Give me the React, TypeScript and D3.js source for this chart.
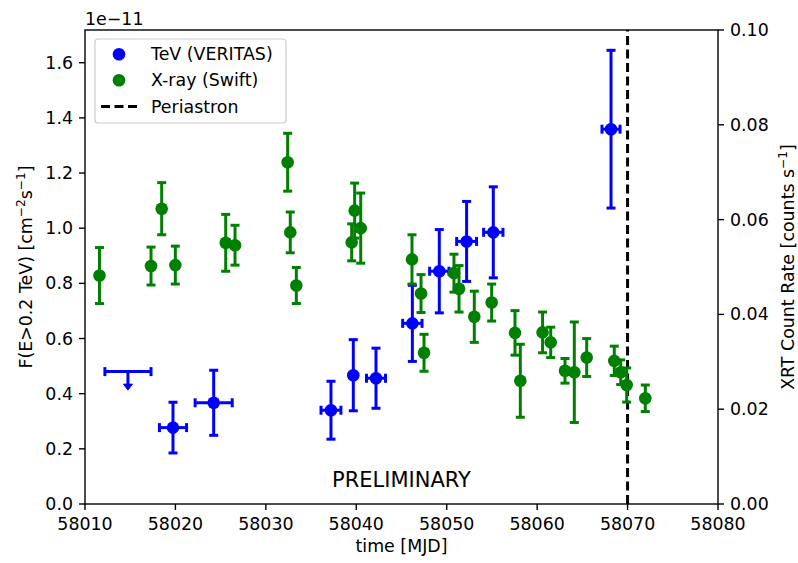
import React from "react";
import * as d3 from "d3";

// VERITAS TeV fluxes (units of 1e-11 cm^-2 s^-1)
const tevMjd = [58019.73, 58024.23, 58037.2, 58039.67, 58042.18, 58046.2, 58049.18, 58052.2, 58055.15, 58068.17];
const tevMjdErr = [1.5, 2.05, 1.1, 0.2, 1.05, 1.07, 1.07, 1.1, 1.07, 1.0];
const tevFlux = [0.277, 0.367, 0.34, 0.467, 0.456, 0.655, 0.844, 0.952, 0.985, 1.359];
const tevFluxErr = [0.092, 0.118, 0.105, 0.129, 0.109, 0.138, 0.151, 0.145, 0.165, 0.286];

// VERITAS upper limit
const ulMjd = [58014.75];
const ulMjdErr = [2.55];
const ulFlux = [0.48];

// Swift-XRT count rates (counts/s)
const xrtMjd = [
  58011.6, 58017.3, 58018.48, 58019.99, 58025.56, 58026.59, 58032.41, 58032.7, 58033.37,
  58039.49, 58039.82, 58040.49, 58046.16, 58047.16, 58047.49, 58050.8, 58051.36, 58053.05,
  58054.97, 58057.55, 58058.14, 58060.6, 58061.5, 58063.08, 58064.11, 58065.48, 58068.53,
  58069.24, 58069.9, 58071.96,
];
const xrtRate = [
  0.0482, 0.0502, 0.0623, 0.0504, 0.0551, 0.0546, 0.0721, 0.0573, 0.0461,
  0.0552, 0.0619, 0.0582, 0.0516, 0.0444, 0.0319, 0.0487, 0.0454, 0.0395,
  0.0425, 0.0361, 0.026, 0.0362, 0.0341, 0.0281, 0.0278, 0.0309, 0.0302,
  0.0278, 0.0251, 0.0223,
];
const xrtRateErr = [
  0.0059, 0.004, 0.0055, 0.004, 0.006, 0.0042, 0.0061, 0.0043, 0.0038,
  0.0039, 0.0058, 0.0074, 0.0052, 0.004, 0.0039, 0.004, 0.0049, 0.0054,
  0.0039, 0.0047, 0.0077, 0.0043, 0.0032, 0.0026, 0.0106, 0.004, 0.0031,
  0.0026, 0.0036, 0.0028,
];

const periastronMjd = 58070;

const xTicks = [58010, 58020, 58030, 58040, 58050, 58060, 58070, 58080];
const leftTicks = [0, 0.2, 0.4, 0.6, 0.8, 1.0, 1.2, 1.4, 1.6];
const rightTicks = [0, 0.02, 0.04, 0.06, 0.08, 0.1];

const legendLabels = ["TeV (VERITAS)", "X-ray (Swift)", "Periastron"];

const BLUE = "#0000ff";
const GREEN = "#008000";
const FONT = "DejaVu Sans, sans-serif";
const FS = 17.4;

const W = 798;
const H = 563;
const L = 85;
const R = 718;
const T = 30;
const B = 504;

const ELW = 3;
const CAP = 4.5;
const MR = 6.3;

export default function App() {
  const x = d3.scaleLinear().domain([58010, 58080]).range([L, R]);
  const yL = d3.scaleLinear().domain([0, 1.7186]).range([B, T]);
  const yR = d3.scaleLinear().domain([0, 0.1]).range([B, T]);

  const fmtL = d3.format(".1f");
  const fmtR = d3.format(".2f");

  const errorPoint = (
    key: string,
    cx: number,
    cy: number,
    x0: number | null,
    x1: number | null,
    y0: number,
    y1: number,
    color: string,
    marker: boolean
  ) => (
    <g key={key}>
      {x0 !== null && x1 !== null && (
        <g stroke={color} strokeWidth={ELW}>
          <line x1={x0} x2={x1} y1={cy} y2={cy} />
          <line x1={x0} x2={x0} y1={cy - CAP} y2={cy + CAP} />
          <line x1={x1} x2={x1} y1={cy - CAP} y2={cy + CAP} />
        </g>
      )}
      <g stroke={color} strokeWidth={ELW}>
        <line x1={cx} x2={cx} y1={y0} y2={y1} />
        <line x1={cx - CAP} x2={cx + CAP} y1={y0} y2={y0} />
        <line x1={cx - CAP} x2={cx + CAP} y1={y1} y2={y1} />
      </g>
      {marker && <circle cx={cx} cy={cy} r={MR} fill={color} />}
    </g>
  );

  return (
    <div style={{ position: "absolute", left: 0, top: 0 }}>
      <svg width={W} height={H} viewBox={`0 0 ${W} ${H}`} style={{ display: "block", background: "#fff" }}>
        <rect x={0} y={0} width={W} height={H} fill="#fff" />

        {/* periastron */}
        <line
          x1={x(periastronMjd)}
          x2={x(periastronMjd)}
          y1={B}
          y2={T}
          stroke="#000"
          strokeWidth={3}
          strokeDasharray="9,4.5"
        />

        {/* TeV upper limit */}
        {ulMjd.map((m, i) => {
          const cx = x(m);
          const cy = yL(ulFlux[i]);
          const x0 = x(m - ulMjdErr[i]);
          const x1 = x(m + ulMjdErr[i]);
          return (
            <g key={`ul${i}`} stroke={BLUE} strokeWidth={ELW}>
              <line x1={x0} x2={x1} y1={cy} y2={cy} />
              <line x1={x0} x2={x0} y1={cy - CAP} y2={cy + CAP} />
              <line x1={x1} x2={x1} y1={cy - CAP} y2={cy + CAP} />
              <line x1={cx} x2={cx} y1={cy} y2={cy + 14} />
              <path
                d={`M${cx - 4.5},${cy + 12.5} L${cx + 4.5},${cy + 12.5} L${cx},${cy + 18.5} Z`}
                fill={BLUE}
                strokeWidth={1}
              />
            </g>
          );
        })}

        {/* TeV fluxes */}
        {tevMjd.map((m, i) =>
          errorPoint(
            `t${i}`,
            x(m),
            yL(tevFlux[i]),
            x(m - tevMjdErr[i]),
            x(m + tevMjdErr[i]),
            yL(tevFlux[i] + tevFluxErr[i]),
            yL(tevFlux[i] - tevFluxErr[i]),
            BLUE,
            true
          )
        )}

        {/* X-ray count rates */}
        {xrtMjd.map((m, i) =>
          errorPoint(
            `x${i}`,
            x(m),
            yR(xrtRate[i]),
            null,
            null,
            yR(xrtRate[i] + xrtRateErr[i]),
            yR(xrtRate[i] - xrtRateErr[i]),
            GREEN,
            true
          )
        )}

        <text
          x={x(58045)}
          y={yL(0.06)}
          textAnchor="middle"
          fontFamily={FONT}
          fontSize={21}
        >
          PRELIMINARY
        </text>

        {/* frame */}
        <rect x={L} y={T} width={R - L} height={B - T} fill="none" stroke="#000" strokeWidth={1.4} />

        {/* x axis */}
        {xTicks.map((t) => (
          <g key={`xt${t}`}>
            <line x1={x(t)} x2={x(t)} y1={B} y2={B + 6} stroke="#000" strokeWidth={1.4} />
            <text x={x(t)} y={530} textAnchor="middle" fontFamily={FONT} fontSize={FS}>
              {String(t)}
            </text>
          </g>
        ))}
        <text x={(L + R) / 2} y={552} textAnchor="middle" fontFamily={FONT} fontSize={FS}>
          time [MJD]
        </text>

        {/* left axis */}
        {leftTicks.map((t) => (
          <g key={`lt${t}`}>
            <line x1={L - 6} x2={L} y1={yL(t)} y2={yL(t)} stroke="#000" strokeWidth={1.4} />
            <text x={L - 12} y={yL(t)} dy="0.35em" textAnchor="end" fontFamily={FONT} fontSize={FS}>
              {fmtL(t)}
            </text>
          </g>
        ))}
        <text x={L} y={25} fontFamily={FONT} fontSize={FS}>
          1e−11
        </text>
        <text
          transform={`translate(32,${(T + B) / 2}) rotate(-90)`}
          textAnchor="middle"
          fontFamily={FONT}
          fontSize={FS}
        >
          F(E&gt;0.2 TeV) [cm
          <tspan dy="-7" fontSize={12.2}>−2</tspan>
          <tspan dy="7">s</tspan>
          <tspan dy="-7" fontSize={12.2}>−1</tspan>
          <tspan dy="7">]</tspan>
        </text>

        {/* right axis */}
        {rightTicks.map((t) => (
          <g key={`rt${t}`}>
            <line x1={R} x2={R + 6} y1={yR(t)} y2={yR(t)} stroke="#000" strokeWidth={1.4} />
            <text x={R + 12} y={yR(t)} dy="0.35em" textAnchor="start" fontFamily={FONT} fontSize={FS}>
              {fmtR(t)}
            </text>
          </g>
        ))}
        <text
          transform={`translate(794,${(T + B) / 2}) rotate(-90)`}
          textAnchor="middle"
          fontFamily={FONT}
          fontSize={FS}
        >
          XRT Count Rate [counts s
          <tspan dy="-7" fontSize={12.2}>−1</tspan>
          <tspan dy="7">]</tspan>
        </text>

        {/* legend */}
        <g>
          <rect x={95} y={39} width={191} height={84} rx={3} fill="#fff" fillOpacity={0.8} stroke="#cccccc" strokeWidth={1.2} />
          <circle cx={119} cy={54.3} r={MR} fill={BLUE} />
          <circle cx={119} cy={80.3} r={MR} fill={GREEN} />
          <line x1={101} x2={137} y1={106.5} y2={106.5} stroke="#000" strokeWidth={3} strokeDasharray="9,4.5" />
          {legendLabels.map((lab, i) => (
            <text key={lab} x={151} y={54.3 + i * 26.1} dy="0.35em" fontFamily={FONT} fontSize={FS}>
              {lab}
            </text>
          ))}
        </g>
      </svg>
    </div>
  );
}
